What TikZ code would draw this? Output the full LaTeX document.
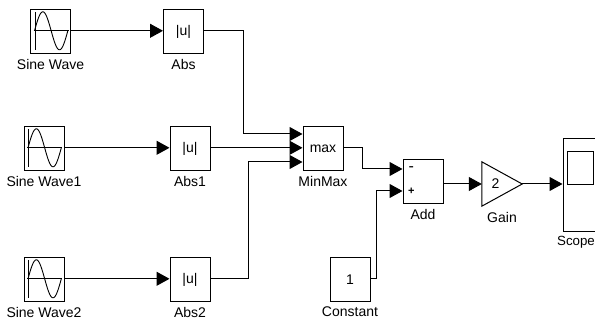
\documentclass[tikz,border=0pt]{standalone}
\usepackage{fontspec}
\setmainfont{Liberation Sans}
\usetikzlibrary{arrows.meta,positioning}

\tikzset{
  block/.style={draw,line width=1pt,minimum width=40pt,minimum height=44pt,inner sep=0pt,font=\fontsize{14}{16}\selectfont},
  blocklabel/.style={inner sep=0pt,font=\fontsize{14}{16}\selectfont},
  wire/.style={line width=1pt,-{Triangle[length=13pt,width=14pt]}}
}
\newcommand{\sinewave}[1]{
  \begin{scope}[shift={(#1.center)},yshift=1.2pt,line width=0.9pt]
    \draw (-15.5,19) -- (-15.5,-19);
    \draw (-17,0) -- (18,0);
    \draw plot[domain=-16:17.5,samples=50,smooth] (\x,{19*sin(10.8*(\x+16))});
  \end{scope}
}

\begin{document}
\begin{tikzpicture}[x=1pt,y=1pt,node distance=32pt,on grid]
   \useasboundingbox (0,0) rectangle (595,-320);
   \node[block] (sine_0) at (50.5,-32) {};
   \node[block] (abs_0) [right=133pt of sine_0] {|u|};
   \node[block] (sine_1) at (44,-149) {};
   \node[block] (abs_1) [right=146pt of sine_1] {|u|};
   \node[block] (sine_2) [below=131pt of sine_1] {};
   \node[block] (abs_2) [below=131pt of abs_1] {|u|};
   \node[block] (minmax) [right=133pt of abs_1] {max};
   \node[block] (add) [below right=32.5pt and 100pt of minmax] {};
   \node[block] (constant) [below=131pt of sine_1,xshift=306pt] {1};
   \node[minimum width=40pt,minimum height=44pt,inner sep=0pt] (gain) [right=79pt of add,yshift=-2.5pt] {};
   \node[block,minimum height=93.5pt] (scope) [right=81pt of gain,yshift=-1pt] {};
   \node[draw,line width=1pt,minimum width=26pt,minimum height=33pt,inner sep=0pt] (screen) at (580,-168.5) {};

   % texts inside the blocks
   \node[inner sep=0pt,font=\fontsize{14}{16}\selectfont] (gain_val) [right=9.5pt of gain.west] {2};
   \node[inner sep=0pt,font=\fontsize{16}{16}\selectfont] (add_minus) [right=6pt of add.west,yshift=12.5pt] {-};
   \node[inner sep=0pt,font=\bfseries\fontsize{11}{14}\selectfont] (add_plus) [right=5.5pt of add.west,yshift=-9.5pt] {+};

   % labels under the blocks
   \node[blocklabel] (sine_0_l) [below=32pt of sine_0] {Sine Wave};
   \node[blocklabel] (abs_0_l) [below=32pt of abs_0] {Abs};
   \node[blocklabel] (sine_1_l) [below=32pt of sine_1] {Sine Wave1};
   \node[blocklabel] (abs_1_l) [below=32pt of abs_1] {Abs1};
   \node[blocklabel] (sine_2_l) [below=32pt of sine_2] {Sine Wave2};
   \node[blocklabel] (abs_2_l) [below=32pt of abs_2] {Abs2};
   \node[blocklabel] (minmax_l) [below=32pt of minmax] {MinMax};
   \node[blocklabel] (add_l) [below=32.5pt of add] {Add};
   \node[blocklabel] (gain_l) [below=33.5pt of gain] {Gain};
   \node[blocklabel,font=\fontsize{13.3}{16}\selectfont] (scope_l) at (576,-242) {Scope};
   \node[blocklabel] (constant_l) [below=32pt of constant] {Constant};

   \sinewave{sine_0}
   \sinewave{sine_1}
   \sinewave{sine_2}

   \draw[line width=1pt,line join=miter] (gain.north west) -- (gain.east) -- (gain.south west) -- cycle;

   \draw[wire] ([yshift=1.2pt]sine_0.east) -- ([yshift=1.2pt]abs_0.west);
   \draw[wire] ([yshift=1.2pt]sine_1.east) -- ([yshift=1.2pt]abs_1.west);
   \draw[wire] ([yshift=1.2pt]sine_2.east) -- ([yshift=1.2pt]abs_2.west);
   \draw[wire] ([yshift=1.2pt]abs_0.east) -- ++(39pt,0) |- ([yshift=15pt]minmax.west);
   \draw[wire] ([yshift=1.2pt]abs_1.east) -- ([yshift=1.2pt]minmax.west);
   \draw[wire] ([yshift=1.2pt]abs_2.east) -- ++(38pt,0) |- ([yshift=-13pt]minmax.west);
   \draw[wire] ([yshift=1.2pt]minmax.east) -- ++(19pt,0) |- ([yshift=12.5pt]add.west);
   \draw[wire] ([yshift=1.2pt]constant.east) -- ++(6pt,0) |- ([yshift=-9.5pt]add.west);
   \draw[wire] ([yshift=-2.5pt]add.east) -- (gain.west);
   \draw[wire] (gain.east) -- ([yshift=1pt]scope.west);
\end{tikzpicture}
\end{document}
